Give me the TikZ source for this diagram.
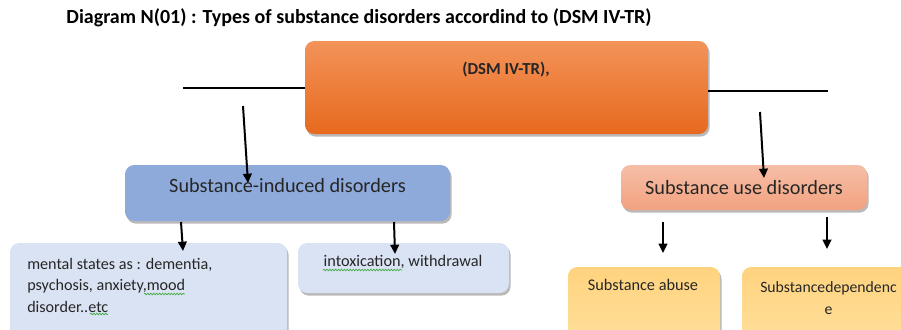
\documentclass[tikz,border=0pt]{standalone}
\usepackage{fontspec}
\setmainfont{Carlito}
\usetikzlibrary{shadows,arrows.meta,calc,decorations.pathmorphing}

\definecolor{dsmtop}{HTML}{F39359}
\definecolor{dsmbot}{HTML}{E7691E}
\definecolor{inducedfill}{HTML}{8EAADB}
\definecolor{usetop}{HTML}{F6BEA7}
\definecolor{usebot}{HTML}{F2A27F}
\definecolor{statefill}{HTML}{DAE3F3}
\definecolor{kindtop}{HTML}{FFD37E}
\definecolor{kindbot}{HTML}{FFE09C}
\definecolor{inktext}{HTML}{262626}
\definecolor{spellmark}{HTML}{3DAA3D}

\begin{document}
\begin{tikzpicture}[x=0.75pt,y=-0.75pt,
  >={Triangle[width=6.5pt,length=7pt]},
  box/.style={rounded corners=7pt,inner sep=0pt,
    drop shadow={shadow xshift=1.2pt,shadow yshift=-2pt,fill=black!50,opacity=0.55}},
  conn/.style={line width=1.5pt,->},
  rule/.style={line width=1.5pt},
  boxtext/.style={text=inktext,inner sep=0pt},
  squiggle/.style={spellmark,line width=0.5pt,decorate,
    decoration={snake,amplitude=0.6pt,segment length=2.2pt}}]

\useasboundingbox (0,0) rectangle (901,329);
\clip (0,0) rectangle (901,329);

% title
\node[font=\bfseries\fontsize{15}{18}\selectfont] (title) at (359,18)
  {Diagram N(01) : Types of substance disorders accordind to (DSM IV-TR)};

% top box
\node[box,top color=dsmtop,bottom color=dsmbot,minimum width=302.25pt,minimum height=69.75pt] (dsm) at (506.5,87.5) {};
\node[boxtext,font=\bfseries\fontsize{12.6}{15}\selectfont] (dsmtext) at (506,70) {(DSM IV-TR),};

\coordinate (lline) at (183,88);
\coordinate (rline) at (828,91);
\draw[rule] (lline) -- (lline -| dsm.west);
\draw[rule] (rline -| dsm.east) -- (rline);

% second level
\node[box,fill=inducedfill,minimum width=243.75pt,minimum height=42pt] (induced) at (287.5,193) {};
\node[boxtext,font=\fontsize{15.2}{18}\selectfont] (inducedtext) at (287.5,186) {Substance-induced disorders};

\node[box,top color=usetop,bottom color=usebot,minimum width=184.5pt,minimum height=33.75pt,
  boxtext,font=\fontsize{15.2}{18}\selectfont] (use) at (744,187.5) {Substance use disorders};

% third level
\node[box,fill=statefill,minimum width=207.75pt,minimum height=76.5pt] (states) at (148.5,294) {};
\node[boxtext,anchor=north west,align=left,font=\fontsize{12.1}{16}\selectfont] (statestext) at (27,258)
  {mental states as : dementia,\\psychosis, anxiety,mood\\disorder..etc};

\node[box,fill=statefill,minimum width=158.25pt,minimum height=37.5pt] (intox) at (403.5,268) {};
\node[boxtext,font=\fontsize{12.2}{15}\selectfont] (intoxtext) at (403,262) {intoxication, withdrawal};

\node[box,top color=kindtop,bottom color=kindbot,minimum width=114pt,minimum height=58.5pt] (abuse) at (644,306) {};
\node[boxtext,font=\fontsize{12.2}{15}\selectfont] (abusetext) at (643,285) {Substance abuse};

\node[box,top color=kindtop,bottom color=kindbot,minimum width=129.75pt,minimum height=58.5pt] (dep) at (828.5,306) {};
\node[boxtext,align=center,font=\fontsize{11.8}{16.5}\selectfont] (deptext) at (828.5,298) {Substancedependenc\\e};

% spelling marks
\draw[squiggle] (323,270) -- (402,270);
\draw[squiggle] (144,294) -- (185,294);
\draw[squiggle] (90,314) -- (108,314);

% arrows
\coordinate (a1s) at (243,106); \coordinate (a1e) at (248,183);
\coordinate (a2s) at (760,112); \coordinate (a2e) at (764,178);
\coordinate (a3s) at (181,222); \coordinate (a3e) at (183,251);
\coordinate (a4s) at (394,222); \coordinate (a4e) at (395,254);
\coordinate (a5s) at (663,222); \coordinate (a5e) at (663,253);
\coordinate (a6s) at (827,217); \coordinate (a6e) at (827,249);

\draw[conn] (a1s) -- (a1e);
\draw[conn] (a2s) -- (a2e);
\draw[conn] (a3s) -- (a3e);
\draw[conn] (a4s) -- (a4e);
\draw[conn] (a5s) -- (a5e);
\draw[conn] (a6s) -- (a6e);

\end{tikzpicture}
\end{document}
